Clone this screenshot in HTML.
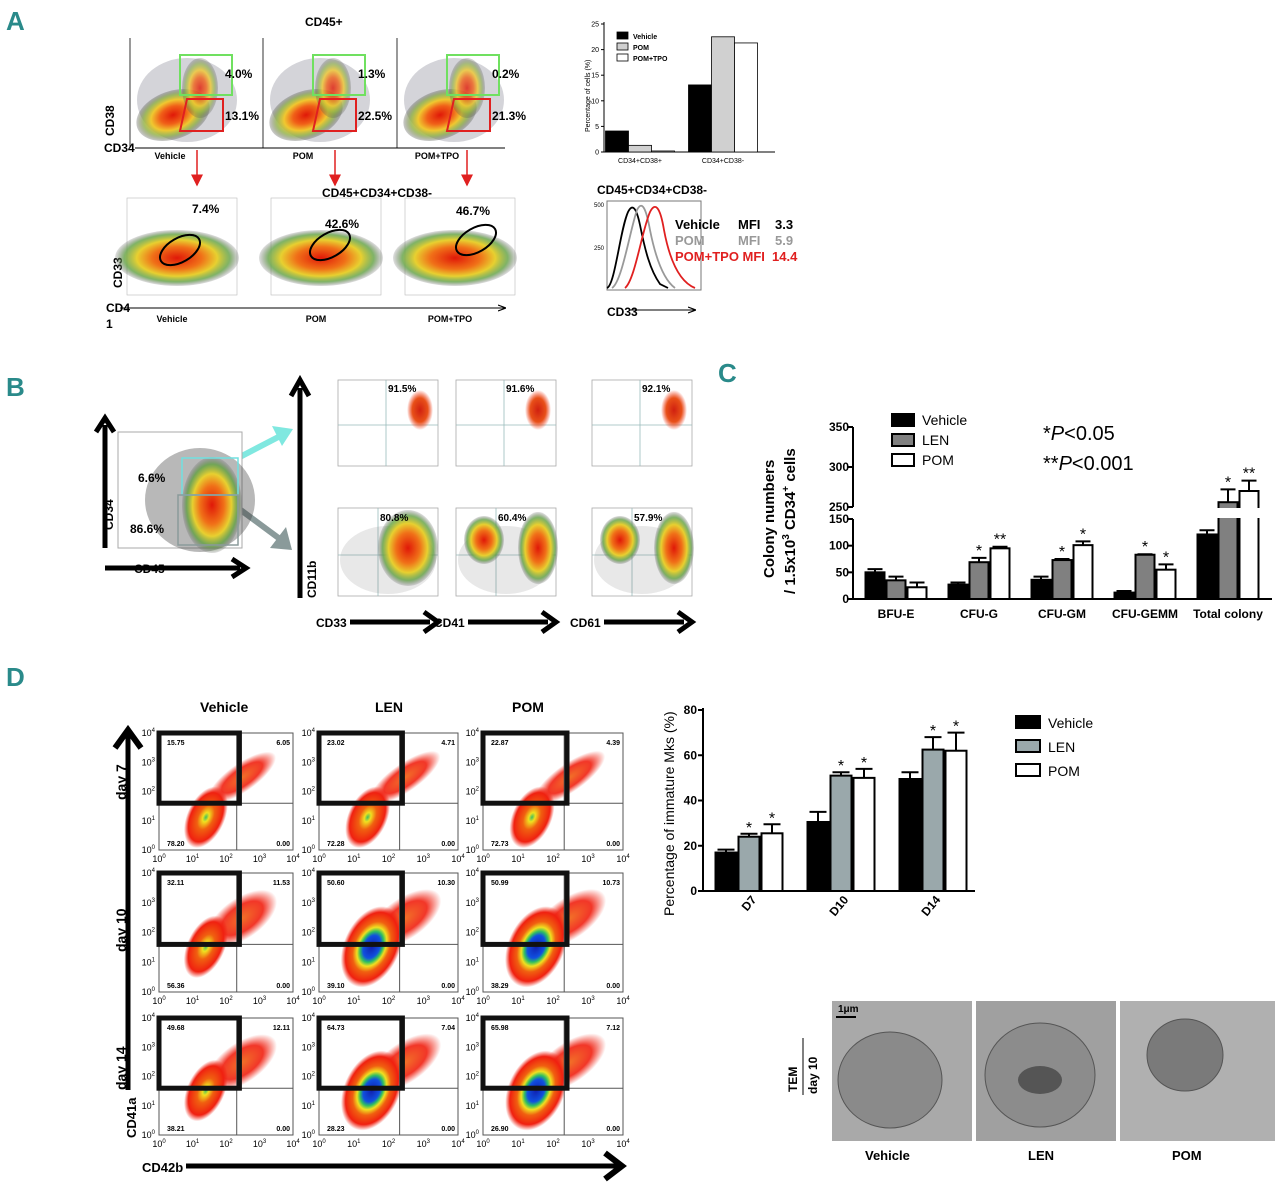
<!DOCTYPE html>
<html><head><meta charset="utf-8">
<style>
html,body{margin:0;padding:0;background:#fff;}
svg{display:block;font-family:"Liberation Sans",Arial,sans-serif;}
.pl{font-weight:bold;fill:#2a8a8a;font-size:26px;}
</style></head>
<body>
<svg id="fig" width="1280" height="1187" viewBox="0 0 1280 1187" xmlns="http://www.w3.org/2000/svg">
<defs>
<radialGradient id="gA"><stop offset="0" stop-color="#e01808"/><stop offset="0.35" stop-color="#f06018"/><stop offset="0.6" stop-color="#f0c830"/><stop offset="0.8" stop-color="#90b040" stop-opacity="0.8"/><stop offset="1" stop-color="#505050" stop-opacity="0.3"/></radialGradient>
<radialGradient id="gB"><stop offset="0" stop-color="#e01808"/><stop offset="0.4" stop-color="#f07018"/><stop offset="0.65" stop-color="#e8d030"/><stop offset="0.85" stop-color="#60a040" stop-opacity="0.8"/><stop offset="1" stop-color="#606060" stop-opacity="0.2"/></radialGradient>
<radialGradient id="gR"><stop offset="0" stop-color="#d02010"/><stop offset="0.6" stop-color="#e85018"/><stop offset="1" stop-color="#f03010" stop-opacity="0"/></radialGradient>
<radialGradient id="gD"><stop offset="0" stop-color="#1020b0"/><stop offset="0.28" stop-color="#1050e0"/><stop offset="0.38" stop-color="#30c060"/><stop offset="0.48" stop-color="#f0e020"/><stop offset="0.62" stop-color="#f06010"/><stop offset="0.85" stop-color="#f02010"/><stop offset="1" stop-color="#f02010" stop-opacity="0"/></radialGradient>
<radialGradient id="gDr"><stop offset="0" stop-color="#40c060"/><stop offset="0.15" stop-color="#f0e020"/><stop offset="0.4" stop-color="#f06010"/><stop offset="0.8" stop-color="#f02010"/><stop offset="1" stop-color="#f02010" stop-opacity="0"/></radialGradient>
<radialGradient id="gDt"><stop offset="0" stop-color="#f06010"/><stop offset="0.6" stop-color="#f02010"/><stop offset="1" stop-color="#f02010" stop-opacity="0"/></radialGradient>
<marker id="ar" markerWidth="8" markerHeight="8" refX="7" refY="4" orient="auto"><path d="M0,0 L8,4 L0,8 z" fill="#e02020"/></marker>
<marker id="ak" markerWidth="8" markerHeight="8" refX="7" refY="4" orient="auto"><path d="M0,1 L8,4 L0,7" fill="none" stroke="#000" stroke-width="1.2"/></marker>
</defs>

<text class="pl" x="6" y="30">A</text>
<text class="pl" x="6" y="396">B</text>
<text class="pl" x="718" y="382">C</text>
<text class="pl" x="6" y="686">D</text>

<g id="panelA">
<text x="305" y="26" font-size="12" font-weight="bold">CD45+</text>
<text x="322" y="197" font-size="12" font-weight="bold">CD45+CD34+CD38-</text>
<text transform="translate(114,136) rotate(-90)" font-size="12" font-weight="bold">CD38</text>
<text x="104" y="152" font-size="12" font-weight="bold">CD34</text>
<line x1="135" y1="148" x2="505" y2="148" stroke="#000"/>
<line x1="120" y1="308" x2="505" y2="308" stroke="#000" marker-end="url(#ak)"/>
<text transform="translate(122,288) rotate(-90)" font-size="12" font-weight="bold">CD33</text>
<text x="106" y="312" font-size="12" font-weight="bold">CD4</text>
<text x="106" y="328" font-size="12" font-weight="bold">1</text>
<line x1="197" y1="150" x2="197" y2="185" stroke="#e02020" stroke-width="1.5" marker-end="url(#ar)"/>
<line x1="335" y1="150" x2="335" y2="185" stroke="#e02020" stroke-width="1.5" marker-end="url(#ar)"/>
<line x1="467" y1="150" x2="467" y2="185" stroke="#e02020" stroke-width="1.5" marker-end="url(#ar)"/>
</g>

<g id="histo">
<text x="597" y="194" font-size="12" font-weight="bold">CD45+CD34+CD38-</text>
<rect x="607" y="201" width="94" height="89" fill="none" stroke="#777"/>
<path d="M607,288 C615,285 620,230 628,212 C632,204 636,206 640,225 C645,250 650,270 660,284 L668,288" fill="none" stroke="#000" stroke-width="1.8"/>
<path d="M612,288 C622,282 630,230 637,210 C642,200 646,208 650,230 C656,260 664,280 675,288" fill="none" stroke="#999" stroke-width="1.8"/>
<path d="M625,288 C635,280 642,230 650,212 C655,202 660,206 664,230 C670,262 680,282 695,288" fill="none" stroke="#e02020" stroke-width="1.8"/>
<text x="594" y="207" font-size="6">500</text>
<text x="594" y="250" font-size="6">250</text>
<text x="675" y="229" font-size="13" font-weight="bold">Vehicle<tspan x="738">MFI</tspan><tspan x="775">3.3</tspan></text>
<text x="675" y="245" font-size="13" font-weight="bold" fill="#999">POM<tspan x="738">MFI</tspan><tspan x="775">5.9</tspan></text>
<text x="675" y="261" font-size="13" font-weight="bold" fill="#e02020">POM+TPO MFI<tspan x="772">14.4</tspan></text>
<text x="607" y="316" font-size="12" font-weight="bold">CD33</text>
<line x1="630" y1="310" x2="695" y2="310" stroke="#000" marker-end="url(#ak)"/>
</g>

<g id="panelB">
<line x1="105" y1="548" x2="105" y2="425" stroke="#000" stroke-width="5"/>
<path d="M96,432 L105,418 L114,432" fill="none" stroke="#000" stroke-width="5"/>
<line x1="105" y1="568" x2="240" y2="568" stroke="#000" stroke-width="5"/>
<path d="M232,559 L246,568 L232,577" fill="none" stroke="#000" stroke-width="5"/>
<text transform="translate(113,530) rotate(-90)" font-size="12" font-weight="bold">CD34</text>
<text x="134" y="573" font-size="12" font-weight="bold">CD45</text>
<line x1="238" y1="458" x2="288" y2="432" stroke="#80e8e0" stroke-width="6"/>
<path d="M272,426 L293,429 L282,446" fill="#80e8e0"/>
<line x1="238" y1="508" x2="284" y2="542" stroke="#8a9a9a" stroke-width="6"/>
<path d="M286,527 L292,550 L270,548" fill="#8a9a9a"/>
<line x1="300" y1="598" x2="300" y2="388" stroke="#000" stroke-width="5"/>
<path d="M291,396 L300,380 L309,396" fill="none" stroke="#000" stroke-width="5"/>
<text transform="translate(316,598) rotate(-90)" font-size="12" font-weight="bold">CD11b</text>
</g>

<g id="panelD">
<text x="200" y="712" font-size="14" font-weight="bold">Vehicle</text>
<text x="375" y="712" font-size="14" font-weight="bold">LEN</text>
<text x="512" y="712" font-size="14" font-weight="bold">POM</text>
<line x1="128" y1="1090" x2="128" y2="735" stroke="#000" stroke-width="5"/>
<path d="M115,748 L128,730 L141,748" fill="none" stroke="#000" stroke-width="6"/>
<line x1="186" y1="1166" x2="620" y2="1166" stroke="#000" stroke-width="5"/>
<path d="M605,1153 L622,1166 L605,1179" fill="none" stroke="#000" stroke-width="6"/>
<text x="142" y="1172" font-size="13" font-weight="bold">CD42b</text>
<text transform="translate(136,1138) rotate(-90)" font-size="13" font-weight="bold">CD41a</text>
<text transform="translate(126,800) rotate(-90)" font-size="14" font-weight="bold">day 7</text>
<text transform="translate(126,952) rotate(-90)" font-size="14" font-weight="bold">day 10</text>
<text transform="translate(126,1090) rotate(-90)" font-size="14" font-weight="bold">day 14</text>
</g>

<g id="tem">
<rect x="832" y="1001" width="140" height="140" fill="#a9a9a9"/>
<ellipse cx="890" cy="1080" rx="52" ry="48" fill="#8a8a8a" stroke="#555"/>
<rect x="976" y="1001" width="140" height="140" fill="#a0a0a0"/>
<ellipse cx="1040" cy="1075" rx="55" ry="52" fill="#8c8c8c" stroke="#555"/>
<ellipse cx="1040" cy="1080" rx="22" ry="14" fill="#555"/>
<rect x="1120" y="1001" width="155" height="140" fill="#b0b0b0"/>
<ellipse cx="1185" cy="1055" rx="38" ry="36" fill="#7a7a7a" stroke="#555"/>
<line x1="836" y1="1017" x2="856" y2="1017" stroke="#000" stroke-width="2"/>
<text x="838" y="1012" font-size="10" font-weight="bold">1μm</text>
<text transform="translate(797,1092) rotate(-90)" font-size="12" font-weight="bold">TEM</text>
<text transform="translate(817,1094) rotate(-90)" font-size="12" font-weight="bold">day 10</text>
<line x1="803" y1="1038" x2="803" y2="1095" stroke="#000"/>
<text x="865" y="1160" font-size="13" font-weight="bold">Vehicle</text>
<text x="1028" y="1160" font-size="13" font-weight="bold">LEN</text>
<text x="1172" y="1160" font-size="13" font-weight="bold">POM</text>
</g>
</svg>

<script>
// ===== Data: panel A bar chart =====
const aCats = ["CD34+CD38+", "CD34+CD38-"];
const aVehicle = [4.1, 13.1];
const aPom = [1.3, 22.5];
const aPomTpo = [0.2, 21.3];
const aTicks = [0, 5, 10, 15, 20, 25];

// ===== Data: panel C colony chart =====
const cCats = ["BFU-E", "CFU-G", "CFU-GM", "CFU-GEMM", "Total colony"];
const cVehicle = [50, 27, 36, 12, 121];
const cLen = [35, 69, 73, 83, 256];
const cPom = [22, 95, 101, 55, 270];
const cVehicleErr = [6, 4, 6, 3, 8];
const cLenErr = [7, 8, 2, 1, 16];
const cPomErr = [9, 3, 7, 10, 13];
const cLenStars = ["", "*", "*", "*", "*"];
const cPomStars = ["", "**", "*", "*", "**"];
const cTicks = [0, 50, 100, 150, 250, 300, 350];

// ===== Data: panel D immature Mks chart =====
const dCats = ["D7", "D10", "D14"];
const dVehicle = [17, 30.5, 49.5];
const dLen = [24, 51, 62.5];
const dPom = [25.5, 50, 62];
const dVehicleErr = [1.3, 4.5, 3];
const dLenErr = [1.3, 1.5, 5.5];
const dPomErr = [4, 4, 8];
const dStars = ["*", "*", "*"];
const dTicks = [0, 20, 40, 60, 80];

const svg = document.getElementById('fig');
const NS = 'http://www.w3.org/2000/svg';
function mk(tag, attrs, parent) {
  const e = document.createElementNS(NS, tag);
  for (const k in attrs) e.setAttribute(k, attrs[k]);
  (parent || svg).appendChild(e);
  return e;
}
function txt(x, y, s, size, extra, parent) {
  const t = mk('text', Object.assign({x: x, y: y, 'font-size': size}, extra || {}), parent);
  t.textContent = s;
  return t;
}

// ---------- Panel A bar chart ----------
(function(){
  const g = mk('g', {});
  
  
  const y = v => 152 - v * 5.12;
  const x0 = 604, groupW = 83, firstC = 640, bw = 23;
  let ax = mk('line', {x1: x0, y1: 22, x2: x0, y2: 152, stroke: '#000'}, g);
  
  
  ax = mk('line', {x1: x0, y1: 152, x2: 775, y2: 152, stroke: '#000'}, g);
  
  
  aTicks.forEach(t => {
    const tk = mk('line', {x1: x0 - 3, y1: y(t), x2: x0, y2: y(t), stroke: '#000'}, g);
    
    
    const tl = txt(x0 - 5, y(t) + 2.5, String(t), 7, {'text-anchor': 'end'}, g);
    
    
  });
  const yl = txt(0, 0, 'Percentage of cells (%)', 7, {transform: 'translate(590,132) rotate(-90)'}, g);
  
  
  const series = [[aVehicle, '#000'], [aPom, '#d0d0d0'], [aPomTpo, '#fff']];
  aCats.forEach((c, i) => {
    const cx = firstC + i * groupW;
    series.forEach((s, j) => {
      const v = s[0][i];
      const r = mk('rect', {x: cx - 34.5 + j * bw, y: y(v), width: bw, height: 152 - y(v), fill: s[1], stroke: '#000', 'stroke-width': 0.8}, g);
      
      
    });
    const cl = txt(cx, 163, c, 7, {'text-anchor': 'middle'}, g);
    
    
  });
  const leg = [['Vehicle', '#000'], ['POM', '#d0d0d0'], ['POM+TPO', '#fff']];
  leg.forEach((l, k) => {
    const r = mk('rect', {x: 617, y: 32 + k * 11, width: 11, height: 7, fill: l[1], stroke: '#000', 'stroke-width': 0.8}, g);
    
    
    const t = txt(633, 39 + k * 11, l[0], 7, {'font-weight': 'bold'}, g);
    
    
  });
})();

// ---------- Panel A flow plots ----------
(function(){
  const tops = [[135, '4.0%', '13.1%'], [268, '1.3%', '22.5%'], [402, '0.2%', '21.3%']];
  const names = ['Vehicle', 'POM', 'POM+TPO'];
  tops.forEach((p, i) => {
    const x = p[0];
    const g = mk('g', {});
    
    
    const bg = mk('ellipse', {cx: x + 52, cy: 100, rx: 50, ry: 42, fill: '#556', opacity: 0.25}, g);
    
    
    const b = mk('ellipse', {cx: x + 38, cy: 115, rx: 38, ry: 24, fill: 'url(#gA)', transform: 'rotate(-20 ' + (x + 38) + ' 115)'}, g);
    
    
    const b2 = mk('ellipse', {cx: x + 65, cy: 88, rx: 18, ry: 30, fill: 'url(#gA)', opacity: 0.8}, g);
    
    
    const gb = mk('rect', {x: x + 45, y: 55, width: 52, height: 40, fill: 'none', stroke: '#70e060', 'stroke-width': 2}, g);
    
    
    const rb = mk('path', {d: 'M' + (x + 52) + ',99 L' + (x + 88) + ',99 L' + (x + 88) + ',131 L' + (x + 45) + ',131 z', fill: 'none', stroke: '#e02020', 'stroke-width': 2}, g);
    
    
    const t1 = txt(x + 90, 78, p[1], 12, {'font-weight': 'bold'}, g);
    
    
    const t2 = txt(x + 90, 120, p[2], 12, {'font-weight': 'bold'}, g);
    
    
    const yax = mk('line', {x1: x - 5, y1: 38, x2: x - 5, y2: 148, stroke: '#000', 'stroke-width': 0.8}, g);
    
    
    const n = txt(x + 35, 159, names[i], 9, {'font-weight': 'bold', 'text-anchor': 'middle'}, g);
    
    
  });
  const bots = [[122, '7.4%', 192, 213, 180, 250], [266, '42.6%', 325, 228, 330, 245], [400, '46.7%', 456, 215, 476, 240]];
  bots.forEach((p, i) => {
    const x = p[0];
    const g = mk('g', {});
    
    
    const fr = mk('rect', {x: x + 5, y: 198, width: 110, height: 97, fill: '#fff', stroke: '#bbb', 'stroke-width': 0.6}, g);
    
    
    const b = mk('ellipse', {cx: x + 55, cy: 258, rx: 62, ry: 28, fill: 'url(#gB)'}, g);
    
    
    const el = mk('ellipse', {cx: p[4], cy: p[5], rx: 22, ry: 12, fill: 'none', stroke: '#000', 'stroke-width': 2, transform: 'rotate(-30 ' + p[4] + ' ' + p[5] + ')'}, g);
    
    
    const t = txt(p[2], p[3], p[1], 12, {'font-weight': 'bold'}, g);
    
    
    const n = txt(x + 50, 322, names[i], 9, {'font-weight': 'bold', 'text-anchor': 'middle'}, g);
    
    
  });
})();

// ---------- Panel B flow plots ----------
(function(){
  let g = mk('g', {});
  
  
  let fr = mk('rect', {x: 118, y: 432, width: 124, height: 116, fill: '#fff', stroke: '#aaa'}, g);
  
  
  let bb = mk('ellipse', {cx: 200, cy: 500, rx: 55, ry: 52, fill: '#333', opacity: 0.35}, g);
  
  
  bb = mk('ellipse', {cx: 212, cy: 505, rx: 30, ry: 48, fill: 'url(#gB)'}, g);
  
  
  let gr = mk('rect', {x: 182, y: 458, width: 56, height: 37, fill: 'none', stroke: '#70e0e0', 'stroke-width': 1.5}, g);
  
  
  gr = mk('rect', {x: 178, y: 495, width: 60, height: 50, fill: 'none', stroke: '#8a9a9a', 'stroke-width': 1.5}, g);
  
  
  let t = txt(138, 482, '6.6%', 12, {'font-weight': 'bold'}, g);
  
  
  t = txt(130, 533, '86.6%', 12, {'font-weight': 'bold'}, g);
  
  

  const cols = [338, 456, 592];
  const topP = ['91.5%', '91.6%', '92.1%'];
  const botP = ['80.8%', '60.4%', '57.9%'];
  const xl = ['CD33', 'CD41', 'CD61'];
  cols.forEach((x, i) => {
    const gt = mk('g', {});
    
    
    let f = mk('rect', {x: x, y: 380, width: 100, height: 86, fill: '#fff', stroke: '#aaa', 'stroke-width': 0.8}, gt);
    
    
    let q = mk('path', {d: 'M' + x + ',425 H' + (x + 100) + ' M' + (x + 48) + ',380 V466', stroke: '#9bb', 'stroke-width': 0.8}, gt);
    
    
    let d = mk('ellipse', {cx: x + 82, cy: 410, rx: 13, ry: 20, fill: 'url(#gR)'}, gt);
    
    
    let tt = txt(x + 50, 392, topP[i], 10, {'font-weight': 'bold'}, gt);
    
    

    const gb = mk('g', {});
    
    
    f = mk('rect', {x: x, y: 508, width: 100, height: 88, fill: '#fff', stroke: '#aaa', 'stroke-width': 0.8}, gb);
    
    
    q = mk('path', {d: 'M' + x + ',555 H' + (x + 100) + ' M' + (x + 40) + ',508 V596', stroke: '#9bb', 'stroke-width': 0.8}, gb);
    
    
    const sc = mk('ellipse', {cx: x + 50, cy: 560, rx: 48, ry: 34, fill: '#666', opacity: 0.15}, gb);
    
    
    if (i === 0) {
      d = mk('ellipse', {cx: x + 70, cy: 548, rx: 30, ry: 38, fill: 'url(#gB)'}, gb);
      
      
    } else {
      d = mk('ellipse', {cx: x + 28, cy: 540, rx: 20, ry: 24, fill: 'url(#gB)'}, gb);
      
      
      d = mk('ellipse', {cx: x + 82, cy: 548, rx: 20, ry: 36, fill: 'url(#gB)'}, gb);
      
      
    }
    tt = txt(x + 42, 521, botP[i], 10, {'font-weight': 'bold'}, gb);
    
    
    const lab = txt(x - 22, 627, xl[i], 12, {'font-weight': 'bold'}, svg);
    
    
    const arw = mk('line', {x1: x + 12, y1: 622, x2: x + 92, y2: 622, stroke: '#000', 'stroke-width': 5});
    
    
    const ah = mk('path', {d: 'M' + (x + 86) + ',612 L' + (x + 100) + ',622 L' + (x + 86) + ',632', fill: 'none', stroke: '#000', 'stroke-width': 5});
    
    
  });
})();

// ---------- Panel C chart ----------
(function(){
  const g = mk('g', {});
  
  
  const y = v => v <= 150 ? 599 - v * 80 / 150 : 507 - (v - 250) * 0.8;
  const x0 = 853, firstC = 896, gw = 83, bw = 21;
  const series = [[cVehicle, cVehicleErr, '#000', null], [cLen, cLenErr, '#808080', cLenStars], [cPom, cPomErr, '#fff', cPomStars]];
  cCats.forEach((c, i) => {
    const cx = firstC + i * gw;
    series.forEach((s, j) => {
      const v = s[0][i], e = s[1][i];
      const bx = cx - 31.5 + j * bw;
      const eb = mk('path', {d: 'M' + (bx + bw / 2) + ',' + y(v) + ' V' + y(v + e) + ' M' + (bx + 3) + ',' + y(v + e) + ' H' + (bx + bw - 3), stroke: '#000', 'stroke-width': 2}, g);
      
      
      const r = mk('rect', {x: bx + 1, y: y(v), width: bw - 2, height: 599 - y(v), fill: s[2], stroke: '#000', 'stroke-width': 2}, g);
      
      
      if (s[3] && s[3][i]) {
        const st = txt(bx + bw / 2, y(v + e) - 2, s[3][i], 16, {'text-anchor': 'middle'}, g);
        
        
      }
    });
    const cl = txt(cx, 618, c, 12, {'font-weight': 'bold', 'text-anchor': 'middle'}, g);
    
    
  });
  const cut = mk('rect', {x: 840, y: 508, width: 440, height: 10, fill: '#fff'}, g);
  
  
  let a = mk('path', {d: 'M' + x0 + ',427 V507 M' + (x0 - 6) + ',507 H' + x0 + ' M' + x0 + ',519 V599 H1272', fill: 'none', stroke: '#000', 'stroke-width': 2}, g);
  
  
  cTicks.forEach(t => {
    const tk = mk('line', {x1: x0 - 5, y1: y(t), x2: x0, y2: y(t), stroke: '#000', 'stroke-width': 2}, g);
    
    
    const tl = txt(x0 - 4, y(t) + 4, String(t), 12, {'font-weight': 'bold', 'text-anchor': 'end'}, g);
    
    
  });
  const t1 = txt(0, 0, 'Colony numbers', 15, {'font-weight': 'bold', transform: 'translate(774,578) rotate(-90)'}, g);
  
  
  const t2 = mk('text', {'font-size': 15, 'font-weight': 'bold', transform: 'translate(795,594) rotate(-90)'}, g);
  t2.innerHTML = '/ 1.5x10<tspan dy="-6" font-size="10">3</tspan><tspan dy="6"> CD34</tspan><tspan dy="-6" font-size="10">+</tspan><tspan dy="6"> cells</tspan>';
  
  
  const leg = [['Vehicle', '#000'], ['LEN', '#808080'], ['POM', '#fff']];
  leg.forEach((l, k) => {
    const r = mk('rect', {x: 892, y: 414 + k * 20, width: 22, height: 12, fill: l[1], stroke: '#000', 'stroke-width': 2}, g);
    
    
    const t = txt(922, 425 + k * 20, l[0], 14, {}, g);
    
    
  });
  const p1 = mk('text', {x: 1043, y: 440, 'font-size': 20}, g);
  p1.innerHTML = '*<tspan font-style="italic">P</tspan>&lt;0.05';
  
  
  const p2 = mk('text', {x: 1043, y: 470, 'font-size': 20}, g);
  p2.innerHTML = '**<tspan font-style="italic">P</tspan>&lt;0.001';
  
  
})();

// ---------- Panel D flow grid ----------
(function(){
  const cx = [159, 319, 483];
  const cw = [134, 139, 140];
  const ry = [733, 873, 1018];
  const rh = [117, 119, 117];
  const tl = [['15.75', '23.02', '22.87'], ['32.11', '50.60', '50.99'], ['49.68', '64.73', '65.98']];
  const tr = [['6.05', '4.71', '4.39'], ['11.53', '10.30', '10.73'], ['12.11', '7.04', '7.12']];
  const bl = [['78.20', '72.28', '72.73'], ['56.36', '39.10', '38.29'], ['38.21', '28.23', '26.90']];
  const exps = ['0', '1', '2', '3', '4'];
  ry.forEach((y, r) => {
    cx.forEach((x, c) => {
      const w = cw[c], h = rh[r];
      const g = mk('g', {});
      
      
      let f = mk('rect', {x: x, y: y, width: w, height: h, fill: '#fff', stroke: '#555', 'stroke-width': 1}, g);
      
      
      const big = (r > 0 && c > 0);
      const tx = x + w * 0.62, ty = y + h * 0.38;
      let d = mk('ellipse', {cx: tx, cy: ty, rx: w * 0.3, ry: h * (r === 0 ? 0.12 : 0.17), fill: 'url(#gDt)', opacity: 0.9, transform: 'rotate(-35 ' + tx + ' ' + ty + ')'}, g);
      
      
      const ex = x + w * (big ? 0.38 : 0.35), ey = y + h * (r === 0 ? 0.72 : 0.62);
      d = mk('ellipse', {cx: ex, cy: ey, rx: big ? w * 0.2 : w * 0.14, ry: big ? h * 0.36 : h * 0.28, fill: big ? 'url(#gD)' : 'url(#gDr)', transform: 'rotate(25 ' + ex + ' ' + ey + ')'}, g);
      
      
      const gx = x + w * 0.58, gy = y + h * 0.6;
      const q = mk('path', {d: 'M' + x + ',' + gy + ' H' + (x + w) + ' M' + gx + ',' + y + ' V' + (y + h), stroke: '#555', 'stroke-width': 1, fill: 'none'}, g);
      
      
      const gate = mk('rect', {x: x, y: y, width: w * 0.6, height: h * 0.6, fill: 'none', stroke: '#111', 'stroke-width': 5}, g);
      
      
      let t = txt(x + 8, y + 12, tl[r][c], 7, {'font-weight': 'bold'}, g);
      
      
      t = txt(x + w - 3, y + 12, tr[r][c], 7, {'font-weight': 'bold', 'text-anchor': 'end'}, g);
      
      
      t = txt(x + 8, y + h - 4, bl[r][c], 7, {'font-weight': 'bold'}, g);
      
      
      t = txt(x + w - 3, y + h - 4, '0.00', 7, {'font-weight': 'bold', 'text-anchor': 'end'}, g);
      
      
      exps.forEach((e, k) => {
        const tx2 = mk('text', {x: x + k * w / 4, y: y + h + 12, 'font-size': 9, 'text-anchor': 'middle'}, g);
        tx2.innerHTML = '10<tspan dy="-4" font-size="6">' + e + '</tspan>';
        
        
        const ty2 = mk('text', {x: x - 4, y: y + h - k * h / 4 + 3, 'font-size': 9, 'text-anchor': 'end'}, g);
        ty2.innerHTML = '10<tspan dy="-4" font-size="6">' + e + '</tspan>';
        
        
      });
    });
  });
})();

// ---------- Panel D bar chart ----------
(function(){
  const g = mk('g', {});
  
  
  const y = v => 891 - v * 181 / 80;
  const x0 = 703, firstC = 749, gw = 92, bw = 23;
  const series = [[dVehicle, dVehicleErr, '#000', false], [dLen, dLenErr, '#9aa8ab', true], [dPom, dPomErr, '#fff', true]];
  dCats.forEach((c, i) => {
    const cx = firstC + i * gw;
    series.forEach((s, j) => {
      const v = s[0][i], e = s[1][i];
      const bx = cx - 34.5 + j * bw;
      const eb = mk('path', {d: 'M' + (bx + bw / 2) + ',' + y(v) + ' V' + y(v + e) + ' M' + (bx + 3) + ',' + y(v + e) + ' H' + (bx + bw - 3), stroke: '#000', 'stroke-width': 2}, g);
      
      
      const r = mk('rect', {x: bx + 1, y: y(v), width: bw - 2, height: 891 - y(v), fill: s[2], stroke: '#000', 'stroke-width': 2}, g);
      
      
      if (s[3]) {
        const st = txt(bx + bw / 2, y(v + e) - 1, dStars[i], 16, {'text-anchor': 'middle'}, g);
        
        
      }
    });
    const cl = txt(0, 0, c, 12, {'font-weight': 'bold', 'text-anchor': 'end', transform: 'translate(' + (cx + 8) + ',900) rotate(-50)'}, g);
    
    
  });
  const a = mk('path', {d: 'M' + x0 + ',708 V891 H975', fill: 'none', stroke: '#000', 'stroke-width': 2}, g);
  
  
  dTicks.forEach(t => {
    const tk = mk('line', {x1: x0 - 5, y1: y(t), x2: x0, y2: y(t), stroke: '#000', 'stroke-width': 2}, g);
    
    
    const tl = txt(x0 - 6, y(t) + 4, String(t), 12, {'font-weight': 'bold', 'text-anchor': 'end'}, g);
    
    
  });
  const yt = txt(0, 0, 'Percentage of immature Mks (%)', 14, {transform: 'translate(674,916) rotate(-90)'}, g);
  
  
  const leg = [['Vehicle', '#000'], ['LEN', '#9aa8ab'], ['POM', '#fff']];
  leg.forEach((l, k) => {
    const r = mk('rect', {x: 1016, y: 716 + k * 24, width: 24, height: 12, fill: l[1], stroke: '#000', 'stroke-width': 2}, g);
    
    
    const t = txt(1048, 728 + k * 24, l[0], 14, {}, g);
    
    
  });
})();
</script>
</body></html>
